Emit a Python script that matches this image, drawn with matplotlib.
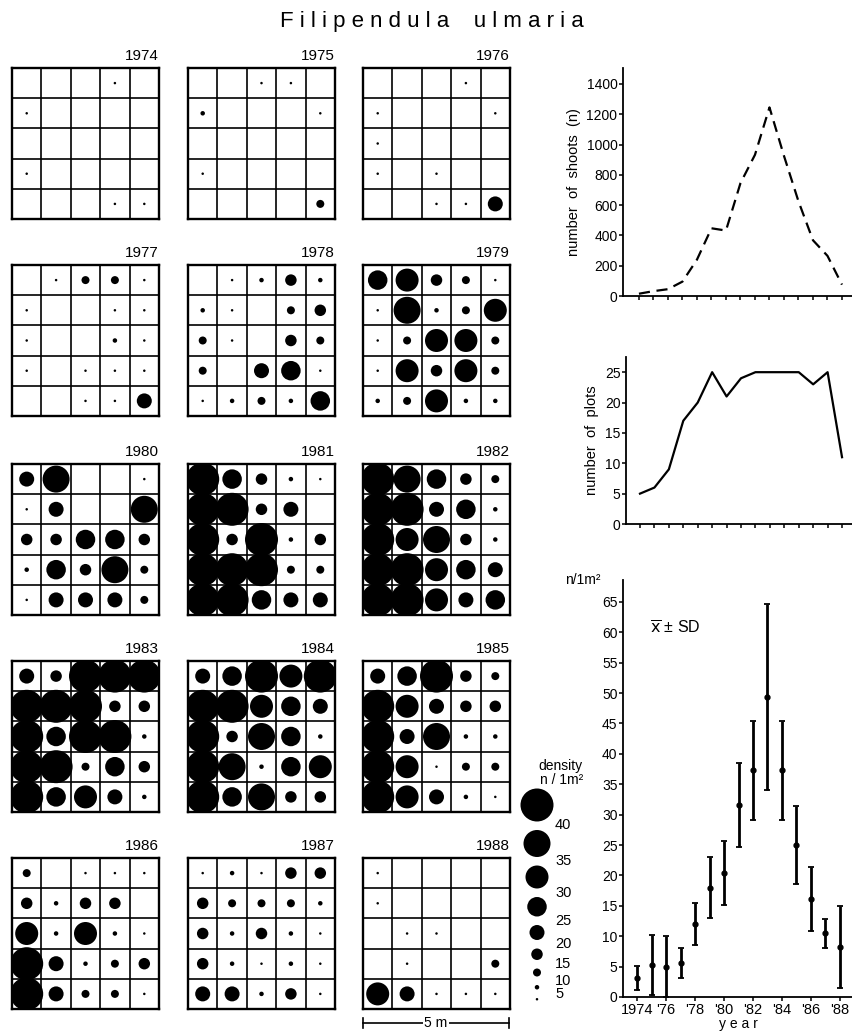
import numpy as np
import matplotlib.pyplot as plt
from matplotlib import font_manager

W, H = 853, 1032

names = {f.name for f in font_manager.fontManager.ttflist}
narrow = 'Liberation Sans Narrow' if 'Liberation Sans Narrow' in names else 'Liberation Sans'
plt.rcParams['font.family'] = ['Liberation Sans', 'DejaVu Sans']

years = list(range(1974, 1989))

# density class of each 1 m2 plot, rows top to bottom
# 0 = empty, 1 = <5, 2 = 5-10, 3 = 10-15, ... 8 = 35-40, 9 = >40 shoots/m2
d1974 = [[0, 0, 0, 1, 0], [1, 0, 0, 0, 0], [0, 0, 0, 0, 0], [1, 0, 0, 0, 0], [0, 0, 0, 1, 1]]
d1975 = [[0, 0, 1, 1, 0], [2, 0, 0, 0, 1], [0, 0, 0, 0, 0], [1, 0, 0, 0, 0], [0, 0, 0, 0, 3]]
d1976 = [[0, 0, 0, 1, 0], [1, 0, 0, 0, 1], [1, 0, 0, 0, 0], [1, 0, 1, 0, 0], [0, 0, 1, 1, 5]]
d1977 = [[0, 1, 3, 3, 1], [1, 0, 0, 1, 1], [1, 0, 0, 2, 1], [1, 0, 1, 1, 1], [0, 0, 1, 1, 5]]
d1978 = [[0, 1, 2, 4, 2], [2, 1, 0, 3, 4], [3, 1, 0, 4, 3], [3, 0, 5, 6, 1], [1, 2, 3, 2, 6]]
d1979 = [[6, 7, 4, 3, 1], [1, 8, 2, 3, 7], [1, 3, 7, 7, 3], [1, 7, 4, 7, 3], [2, 3, 7, 2, 2]]
d1980 = [[5, 8, 0, 0, 1], [1, 5, 0, 0, 8], [4, 4, 6, 6, 4], [2, 6, 4, 8, 3], [1, 5, 5, 5, 3]]
d1981 = [[9, 6, 4, 2, 1], [9, 9, 4, 5, 0], [9, 4, 9, 2, 4], [9, 9, 9, 3, 3], [9, 9, 6, 5, 5]]
d1982 = [[9, 8, 6, 4, 3], [9, 9, 5, 6, 2], [9, 7, 8, 4, 2], [9, 9, 7, 6, 5], [9, 9, 7, 5, 6]]
d1983 = [[5, 4, 9, 9, 9], [9, 9, 9, 4, 4], [9, 6, 9, 9, 2], [9, 9, 3, 6, 4], [9, 6, 7, 5, 2]]
d1984 = [[5, 6, 9, 7, 9], [9, 9, 7, 6, 5], [9, 4, 8, 6, 2], [9, 8, 2, 6, 7], [9, 6, 8, 4, 4]]
d1985 = [[5, 6, 9, 4, 3], [9, 7, 5, 4, 4], [9, 5, 8, 2, 2], [9, 7, 1, 3, 3], [9, 7, 5, 2, 1]]
d1986 = [[3, 0, 1, 1, 1], [4, 2, 4, 4, 0], [7, 2, 7, 2, 1], [9, 5, 2, 3, 4], [9, 5, 3, 3, 1]]
d1987 = [[1, 2, 1, 4, 4], [4, 3, 3, 3, 2], [4, 2, 4, 2, 1], [4, 2, 1, 2, 1], [5, 5, 2, 4, 1]]
d1988 = [[1, 0, 0, 0, 0], [1, 0, 0, 0, 0], [0, 1, 1, 0, 0], [0, 1, 0, 0, 3], [7, 5, 1, 1, 1]]
grids = [d1974, d1975, d1976, d1977, d1978, d1979, d1980, d1981,
         d1982, d1983, d1984, d1985, d1986, d1987, d1988]

shoots = [15, 32, 45, 95, 240, 447, 432, 745, 932, 1245, 925, 625, 368, 265, 75]
plots = [5, 6, 9, 17, 20, 25, 21, 24, 25, 25, 25, 25, 23, 25, 11]
mean = [3.1, 5.3, 5.0, 5.6, 12.0, 18.0, 20.4, 31.6, 37.3, 49.4, 37.3, 25.0, 16.1, 10.5, 8.2]
sd = [2.0, 4.9, 5.0, 2.4, 3.4, 5.0, 5.2, 6.9, 8.1, 15.3, 8.1, 6.4, 5.3, 2.4, 6.7]

legend_labels = ['40', '35', '30', '25', '20', '15', '10', '5']
year_ticks = [1974, 1976, 1978, 1980, 1982, 1984, 1986, 1988]
year_ticklabels = ['1974', "'76", "'78", "'80", "'82", "'84", "'86", "'88"]

# dot diameter (pixels) for each density class
class_px = [0, 2.5, 4.5, 8, 11.5, 15, 19.5, 23, 27, 33]


def msize(d):
    return (d * 72 / 100) ** 2


fig = plt.figure(figsize=(W / 100, H / 100), dpi=100)


def px_axes(left, top, width, height):
    return fig.add_axes([left / W, 1 - (top + height) / H, width / W, height / H])


# overlay for title, legend and scale bar
ov = px_axes(0, 0, W, H)
ov.set_xlim(0, W)
ov.set_ylim(H, 0)
ov.axis('off')

ov.text(432, 22, 'F i l i p e n d u l a    u l m a r i a', ha='center', va='center',
        fontsize=16)

# the 15 maps
col_left = [12, 188, 363]
row_top = [68, 265, 464, 661, 858]
for i, (yr, g) in enumerate(zip(years, grids)):
    ax = px_axes(col_left[i % 3], row_top[i // 3], 147, 151)
    ax.set_xlim(0, 5)
    ax.set_ylim(5, 0)
    ax.set_xticks([])
    ax.set_yticks([])
    g = np.array(g)
    r, c = np.nonzero(g)
    ax.scatter(c + 0.5, r + 0.5, s=[msize(class_px[v]) for v in g[r, c]],
               color='k', linewidths=0, zorder=1)
    for k in range(1, 5):
        ax.axvline(k, color='k', lw=1.2, zorder=2)
        ax.axhline(k, color='k', lw=1.2, zorder=2)
    for sp in ax.spines.values():
        sp.set_linewidth(1.7)
    ax.text(1, 1.03, str(yr), transform=ax.transAxes, ha='right', va='bottom',
            fontsize=11, family=[narrow, 'DejaVu Sans'])

# density legend
leg_d = class_px[::-1][:-1]
ys = [805]
for a, b in zip(leg_d[:-1], leg_d[1:]):
    ys.append(ys[-1] + (a + b) / 2 + 8.5)
ov.scatter([537] * len(leg_d), ys, s=[msize(d) for d in leg_d], color='k', linewidths=0)
for lab, y0, y1 in zip(legend_labels, ys[:-1], ys[1:]):
    ov.text(555, (y0 + y1) / 2 + 1, lab, ha='left', va='center', fontsize=10.5,
            family=[narrow, 'DejaVu Sans'])
ov.text(560, 766, 'density', ha='center', va='center', fontsize=10, family=[narrow, 'DejaVu Sans'])
ov.text(562, 780, 'n / 1m²', ha='center', va='center', fontsize=10, family=[narrow, 'DejaVu Sans'])

# scale bar
ov.plot([363, 509], [1023, 1023], color='k', lw=1.2)
ov.plot([363, 363], [1018, 1028], color='k', lw=1.2)
ov.plot([509, 509], [1018, 1028], color='k', lw=1.2)
ov.text(436, 1023, '5 m', ha='center', va='center', fontsize=10,
        bbox=dict(facecolor='white', edgecolor='none', pad=1))


def style(ax):
    ax.spines['top'].set_visible(False)
    ax.spines['right'].set_visible(False)
    ax.spines['left'].set_linewidth(1.3)
    ax.spines['bottom'].set_linewidth(1.3)
    ax.tick_params(direction='out', length=3, width=1.1, labelsize=10, pad=1)
    ax.set_xticks(years)
    ax.set_xticklabels([])


# number of shoots
a1 = px_axes(623, 68, 230, 228)
a1.plot(years, shoots, color='k', lw=1.6, ls=(0, (5, 3)))
a1.set_xlim(1972.9, 1988.76)
a1.set_ylim(0, 1505)
style(a1)
a1.set_yticks(range(0, 1401, 200))
a1.set_ylabel('number  of  shoots  (n)', fontsize=10.5, labelpad=4)

# number of plots
a2 = px_axes(626, 357, 227, 167)
a2.plot(years, plots, color='k', lw=1.6)
a2.set_xlim(1973.03, 1988.76)
a2.set_ylim(0, 27.5)
style(a2)
a2.set_yticks(range(0, 26, 5))
a2.set_ylabel('number  of  plots', fontsize=10.5, labelpad=4)

# mean density +- SD
a3 = px_axes(623, 580, 230, 417)
lower = [min(s, m) for s, m in zip(sd, mean)]
a3.errorbar(years, mean, yerr=[lower, sd], fmt='o', ms=3.5, color='k', ecolor='k',
            elinewidth=2, capsize=2.5, capthick=1.3)
a3.set_xlim(1973.03, 1988.9)
a3.set_ylim(0, 68.6)
style(a3)
a3.set_xticks(year_ticks)
a3.set_xticklabels(year_ticklabels, family=[narrow, 'DejaVu Sans'], fontsize=10.5)
a3.set_yticks(range(0, 66, 5))
a3.set_xlabel('y e a r', fontsize=10, labelpad=0)
a3.text(-0.25, 1.0, 'n/1m²', transform=a3.transAxes, ha='left', va='center', fontsize=10,
        family=[narrow, 'DejaVu Sans'])
a3.text(0.117, 0.885, r'$\overline{\mathrm{x}}$ ± SD', transform=a3.transAxes,
        ha='left', va='center', fontsize=11.5)

fig.savefig('out.png', dpi=100)
